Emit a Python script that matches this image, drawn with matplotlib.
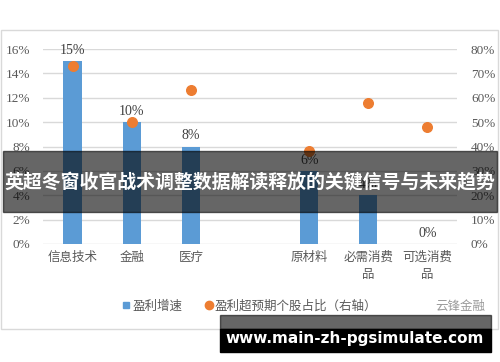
import matplotlib.pyplot as plt
import matplotlib.patches as mpatches
from matplotlib.lines import Line2D
import numpy as np

plt.rcParams['font.family'] = ['Noto Sans CJK SC', 'DejaVu Sans']

# data
categories = ['信息技术', '金融', '医疗', '', '原材料', '必需消费\n品', '可选消费\n品']
growth = [15, 10, 8, np.nan, 6, 4, 0]            # 盈利增速, left axis (%)
beat_share = [73, 50, 63, np.nan, 38, 58, 48]    # 盈利超预期个股占比, right axis (%)
left_ticks = [0, 2, 4, 6, 8, 10, 12, 14, 16]
right_ticks = [0, 10, 20, 30, 40, 50, 60, 70, 80]

title = '英超冬窗收官战术调整数据解读释放的关键信号与未来趋势'
url = 'www.main-zh-pgsimulate.com'

W, H = 500, 362
fig = plt.figure(figsize=(W / 100, H / 100), dpi=100)

def px(x0, y0, x1, y1):
    # pixel box (top-left origin) -> figure fraction rect
    return [x0 / W, 1 - y1 / H, (x1 - x0) / W, (y1 - y0) / H]

# chart frame
fig.patches.append(mpatches.Rectangle((1 / W, 1 - 329 / H), 497 / W, 299 / H,
                                      transform=fig.transFigure, fill=False,
                                      edgecolor='#d9d9d9', linewidth=1))

ax = fig.add_axes(px(43, 49, 457, 244))
ax2 = ax.twinx()
x = np.arange(len(categories))

bar_color = '#5b9bd5'
dot_color = '#ed7d31'
tick_grey = '#595959'
serif = ['Liberation Serif', 'DejaVu Serif']

ax.bar(x, growth, width=0.31, color=bar_color, zorder=2)
for xi, v in zip(x, growth):
    if np.isnan(v):
        continue
    ax.annotate(f'{v:g}%', (xi, v), xytext=(0, 3), textcoords='offset points',
                ha='center', va='bottom', fontsize=10, color='#404040', family=serif)

ax2.scatter(x, beat_share, s=48, color=dot_color, zorder=3)

ax.set_xlim(-0.5, len(categories) - 0.5)
ax.set_ylim(0, 16)
ax2.set_ylim(0, 80)
ax.set_yticks(left_ticks)
ax.set_yticklabels([f'{t}%' for t in left_ticks], family=serif, fontsize=9.5, color=tick_grey)
ax2.set_yticks(right_ticks)
ax2.set_yticklabels([f'{t}%' for t in right_ticks], family=serif, fontsize=9.5, color=tick_grey)
ax.set_xticks(x)
ax.set_xticklabels(categories, fontsize=9, color=tick_grey, linespacing=1.45, va='top')
ax.tick_params(axis='y', length=0, pad=9)
ax2.tick_params(axis='y', length=0, pad=10)
ax.tick_params(axis='x', length=0, pad=5)
ax.grid(axis='y', color='#d9d9d9', linewidth=1, zorder=0)
ax.set_axisbelow(True)
for a in (ax, ax2):
    for s in a.spines.values():
        s.set_visible(False)

# legend
handles = [Line2D([], [], marker='s', linestyle='', color=bar_color, markersize=4.5),
           Line2D([], [], marker='o', linestyle='', color=dot_color, markersize=6)]
fig.legend(handles, ['盈利增速', '盈利超预期个股占比（右轴）'], loc='center',
           bbox_to_anchor=(250 / W, 1 - 306 / H), ncol=2, frameon=False,
           fontsize=9, labelcolor=tick_grey, handlelength=0.6, handletextpad=0.2,
           columnspacing=1.8)
fig.text(460 / W, 1 - 306 / H, '云锋金融', fontsize=9, color='#9a9a9a',
         ha='center', va='center')

# overlay banner with title
fig.patches.append(mpatches.Rectangle((3 / W, 1 - 212 / H), 494 / W, 61 / H,
                                      transform=fig.transFigure, color='black',
                                      alpha=0.6, zorder=10))
fig.text(250 / W, 1 - 183 / H, title, fontsize=13.6, fontweight='bold', color='white',
         ha='center', va='center', zorder=11)

# url box at the bottom
fig.patches.append(mpatches.Rectangle((220 / W, 1 - 329 / H), 271 / W, 14 / H,
                                      transform=fig.transFigure, color='black',
                                      alpha=0.6, zorder=10))
fig.patches.append(mpatches.Rectangle((220 / W, 1 - 352 / H), 271 / W, 23 / H,
                                      transform=fig.transFigure, color='black', zorder=10))
fig.text(355 / W, 1 - 338 / H, url, fontsize=11, fontweight='bold', color='white',
         family='DejaVu Sans', ha='center', va='center', zorder=11)

fig.savefig('out.png', dpi=100)
